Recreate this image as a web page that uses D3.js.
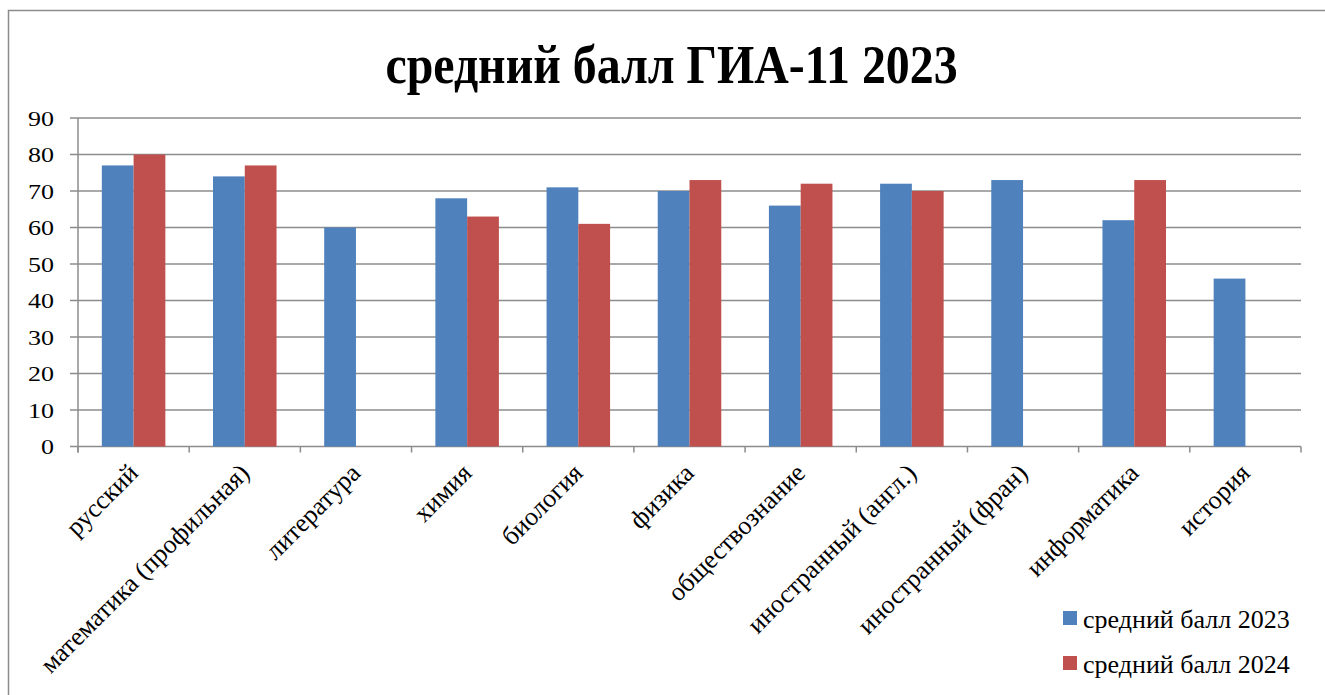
<!DOCTYPE html>
<html><head><meta charset="utf-8">
<script src="https://cdn.jsdelivr.net/npm/d3@7/dist/d3.min.js"></script>
<style>body{margin:0;background:#fff}svg{display:block}</style>
</head><body>
<script>
const categories = ["русский","математика (профильная)","литература","химия","биология","физика","обществознание","иностранный (англ.)","иностранный (фран)","информатика","история"];
const series2023 = [77,74,60,68,71,70,66,72,73,62,46];
const series2024 = [80,77,null,63,61,73,72,70,null,73,null];
const seriesNames = ["средний балл 2023","средний балл 2024"];
const seriesColors = ["#4F81BD","#C0504D"];
const yTicks = [0,10,20,30,40,50,60,70,80,90];
const title = "средний балл ГИА-11 2023";

const W=1325,H=695;
const svg=d3.select("body").append("svg").attr("width",W).attr("height",H);
const font="Liberation Serif, Times New Roman, serif";

// chart border
svg.append("rect").attr("x",8.5).attr("y",10.5).attr("width",1340).attr("height",720)
  .attr("fill","none").attr("stroke","#8c8c8c").attr("stroke-width",1.5);

svg.append("text").attr("transform","translate(671.5,82.7) scale(0.87,1)").attr("text-anchor","middle")
  .attr("font-family",font).attr("font-weight","bold").attr("font-size",55).text(title);

const m={l:78,r:1301,t:118,b:446.5};
const x=d3.scaleBand().domain(categories).range([m.l,m.r]).paddingInner(0).paddingOuter(0);
const y=d3.scaleLinear().domain([0,90]).range([m.b,m.t]);
const xs=d3.scaleBand().domain([0,1]).range([0,x.bandwidth()]).paddingInner(0).paddingOuter(0.75);

// gridlines
svg.append("g").selectAll("line").data(yTicks).join("line")
  .attr("x1",70).attr("x2",m.r).attr("y1",d=>y(d)).attr("y2",d=>y(d))
  .attr("stroke","#8c8c8c").attr("stroke-width",1.5);

// bars
const data=[series2023,series2024];
data.forEach((s,si)=>{
  svg.append("g").selectAll("rect").data(categories.map((c,i)=>({c,v:s[i]})).filter(d=>d.v!=null))
    .join("rect")
    .attr("x",d=>x(d.c)+xs(si)).attr("width",xs.bandwidth())
    .attr("y",d=>y(d.v)).attr("height",d=>y(0)-y(d.v))
    .attr("fill",seriesColors[si]);
});

// y axis line
svg.append("line").attr("x1",m.l).attr("x2",m.l).attr("y1",m.t).attr("y2",m.b+6)
  .attr("stroke","#8c8c8c").attr("stroke-width",1.5);
// x axis ticks
svg.append("g").selectAll("line").data(d3.range(categories.length+1)).join("line")
  .attr("x1",i=>m.l+i*x.step()).attr("x2",i=>m.l+i*x.step())
  .attr("y1",m.b).attr("y2",m.b+6).attr("stroke","#8c8c8c").attr("stroke-width",1.5);

// y labels
svg.append("g").selectAll("text").data(yTicks).join("text")
  .attr("transform",d=>`translate(54,${y(d)+7.5}) scale(1.24,1)`).attr("text-anchor","end")
  .attr("font-family",font).attr("font-size",21).text(d=>d);

// x labels
svg.append("g").selectAll("text").data(categories).join("text")
  .attr("transform",d=>`translate(${x(d)+x.bandwidth()/2+6},${m.b+28}) rotate(-45)`)
  .attr("text-anchor","end").attr("font-family",font).attr("font-size",26).text(d=>d);

// legend
const lg=svg.append("g");
seriesNames.forEach((n,i)=>{
  lg.append("rect").attr("x",1063).attr("y",611+i*45).attr("width",14).attr("height",14).attr("fill",seriesColors[i]);
  lg.append("text").attr("x",1083).attr("y",627.5+i*45)
    .attr("font-family",font).attr("font-size",26).text(n);
});
</script>
</body></html>
